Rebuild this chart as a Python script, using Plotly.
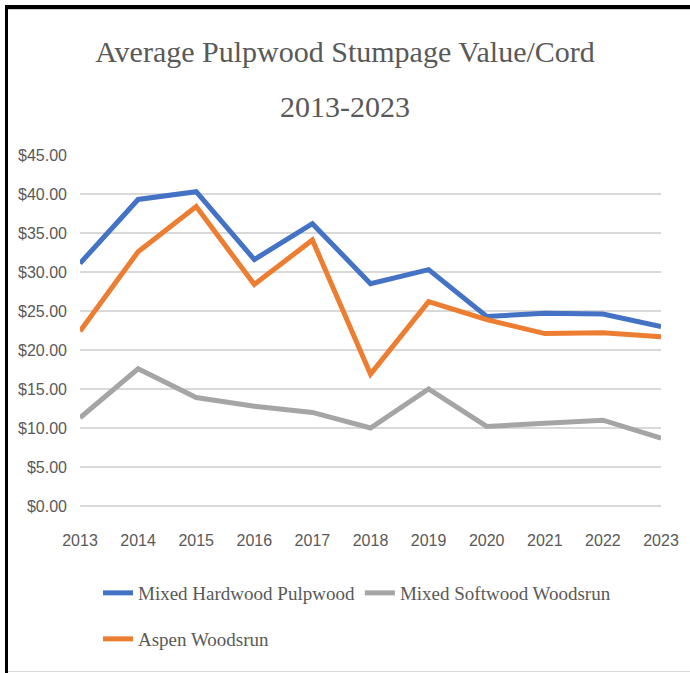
import plotly.graph_objects as go

# Данные
years = [2013, 2014, 2015, 2016, 2017, 2018, 2019, 2020, 2021, 2022, 2023]
hardwood = [31.1, 39.3, 40.3, 31.6, 36.2, 28.5, 30.3, 24.3, 24.7, 24.6, 23.0]
softwood = [11.3, 17.6, 13.9, 12.8, 12.0, 10.0, 15.0, 10.2, 10.6, 11.0, 8.7]
aspen = [22.4, 32.6, 38.4, 28.4, 34.1, 16.9, 26.2, 23.9, 22.1, 22.2, 21.7]
y_ticks = [0, 5, 10, 15, 20, 25, 30, 35, 40, 45]

W, H = 690, 673
L, R, T, B = 80, 29, 155, 167
PW, PH = W - L - R, H - T - B

TEXT = '#595959'
SERIF = 'Liberation Serif, Times New Roman, serif'
SANS = 'Liberation Sans Narrow, Arial Narrow, Liberation Sans, sans-serif'


def px(x):
    return (x - L) / PW


def py(y):
    return (H - B - y) / PH


fig = go.Figure()

fig.add_trace(go.Scatter(x=years, y=hardwood, mode='lines',
                         name='Mixed Hardwood Pulpwood',
                         line={'color': '#4472C4', 'width': 5},
                         legend='legend'))
fig.add_trace(go.Scatter(x=years, y=softwood, mode='lines',
                         name='Mixed Softwood Woodsrun',
                         line={'color': '#A5A5A5', 'width': 5},
                         legend='legend'))
fig.add_trace(go.Scatter(x=years, y=aspen, mode='lines',
                         name='Aspen Woodsrun',
                         line={'color': '#ED7D31', 'width': 5},
                         legend='legend2'))

# Рамка вокруг картинки
shapes = [
    dict(type='rect', xref='paper', yref='paper',
         x0=px(5), x1=px(W), y0=py(5), y1=py(9),
         fillcolor='black', line_width=0),
    dict(type='rect', xref='paper', yref='paper',
         x0=px(5), x1=px(8), y0=py(5), y1=py(H),
         fillcolor='black', line_width=0),
    dict(type='line', xref='paper', yref='paper',
         x0=px(8), x1=px(W), y0=py(9.5), y1=py(9.5),
         line={'color': '#D0D0D0', 'width': 1}),
    dict(type='line', xref='paper', yref='paper',
         x0=px(8), x1=px(W), y0=py(671.5), y1=py(671.5),
         line={'color': '#D9D9D9', 'width': 1}),
]

fig.update_layout(
    width=W, height=H,
    margin=dict(l=L, r=R, t=T, b=B),
    paper_bgcolor='white', plot_bgcolor='white',
    title=dict(text='Average Pulpwood Stumpage Value/Cord',
               x=0.5, xanchor='center', xref='container',
               y=1 - 51 / H, yanchor='middle', yref='container',
               font=dict(family=SERIF, size=30, color=TEXT)),
    annotations=[dict(text='2013-2023', xref='paper', yref='paper',
                      x=px(W / 2), y=py(106), xanchor='center', yanchor='middle',
                      showarrow=False,
                      font=dict(family=SERIF, size=30, color=TEXT))],
    shapes=shapes,
    showlegend=True,
    legend=dict(orientation='h', x=px(98), xanchor='left',
                y=py(574), yanchor='top',
                font=dict(family=SERIF, size=19, color=TEXT),
                bgcolor='rgba(0,0,0,0)'),
    legend2=dict(orientation='h', x=px(98), xanchor='left',
                 y=py(620), yanchor='top',
                 font=dict(family=SERIF, size=19, color=TEXT),
                 bgcolor='rgba(0,0,0,0)'),
)

fig.update_xaxes(range=[2013, 2023], tickvals=years, showgrid=False,
                 zeroline=False, showline=False, ticks='',
                 ticklabelstandoff=23,
                 tickfont=dict(family=SANS, size=16, color=TEXT))
fig.update_yaxes(range=[0, 45], tickvals=y_ticks, tickformat='$.2f',
                 showgrid=True, gridcolor='#D9D9D9', gridwidth=2,
                 zeroline=True, zerolinecolor='#D9D9D9', zerolinewidth=2,
                 showline=False, ticks='', ticklabelstandoff=12,
                 tickfont=dict(family=SANS, size=16, color=TEXT))

# убрать отступ body, чтобы картинка легла ровно в окно
fig.write_html("out.html",
               config={'displayModeBar': False},
               post_script="document.body.style.margin='0';"
                           "document.body.style.overflow='hidden';")
